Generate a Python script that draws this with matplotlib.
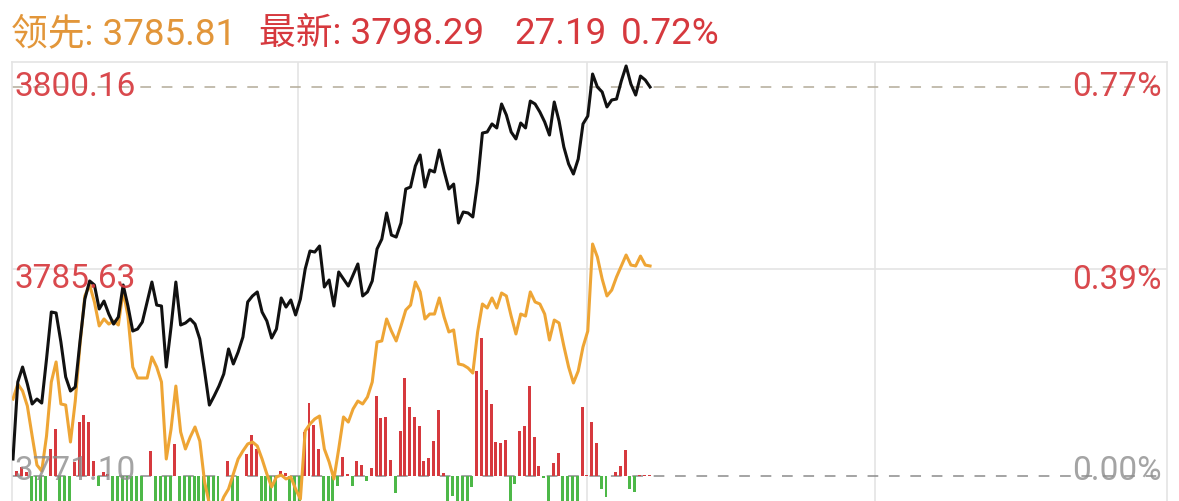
import matplotlib
matplotlib.use('Agg')
import numpy as np
import matplotlib.pyplot as plt

# header values
lead_value = 3785.81
last_value = 3798.29
change_value = 27.19
change_pct = 0.72

# axis reference prices
price_top = 3800.16
price_mid = 3785.63
price_base = 3771.10

# price line (black), one value per minute from the open
price = [
    3772.37, 3778.12, 3779.24, 3777.97, 3776.48, 3776.85, 3776.55, 3779.84, 3783.35, 3783.28,
    3781.11, 3778.50, 3777.45, 3777.75, 3781.19, 3784.32, 3785.67, 3785.37, 3783.58, 3784.17,
    3783.20, 3782.45, 3782.98, 3785.37, 3783.80, 3781.93, 3782.08, 3782.60, 3784.10, 3785.59,
    3783.87, 3783.80, 3779.24, 3782.23, 3785.59, 3782.38, 3782.53, 3782.83, 3782.45, 3781.33,
    3778.94, 3776.40, 3777.08, 3777.82, 3778.72, 3780.59, 3779.47, 3780.36, 3781.48, 3784.10,
    3784.55, 3784.85, 3783.35, 3782.68, 3781.41, 3782.08, 3784.40, 3783.72, 3784.25, 3783.13,
    3784.32, 3786.56, 3787.91, 3787.83, 3788.28, 3785.22, 3785.74, 3783.80, 3786.34, 3785.82,
    3785.29, 3786.12, 3786.94, 3784.55, 3784.85, 3785.67, 3788.06, 3788.80, 3790.75, 3789.10,
    3788.95, 3790.00, 3792.54, 3792.69, 3794.26, 3795.08, 3792.69, 3793.96, 3793.81, 3795.45,
    3793.88, 3792.54, 3792.91, 3790.00, 3790.82, 3790.75, 3790.45, 3793.06, 3796.72, 3796.80,
    3797.40, 3797.10, 3798.89, 3798.07, 3796.80, 3796.28, 3797.47, 3797.10, 3799.11, 3798.89,
    3798.29, 3797.55, 3796.57, 3799.04, 3797.62, 3795.68, 3794.41, 3793.66, 3794.78, 3797.40,
    3797.99, 3801.13, 3800.16, 3799.79, 3798.67, 3799.19, 3799.26, 3800.61, 3801.73, 3800.38,
    3799.56, 3800.98, 3800.68, 3800.16,
]

# leading line (orange)
lead = [
    3776.85, 3777.97, 3777.45, 3776.33, 3774.09, 3771.92, 3771.47, 3774.09, 3778.12, 3779.62,
    3776.48, 3776.40, 3773.64, 3776.70, 3780.96, 3784.55, 3785.37, 3784.10, 3782.31, 3782.83,
    3782.45, 3782.68, 3782.38, 3784.92, 3783.05, 3779.24, 3778.42, 3778.42, 3778.42, 3779.99,
    3779.24, 3778.12, 3772.37, 3774.61, 3777.82, 3774.39, 3773.12, 3774.01, 3774.76, 3773.71,
    3770.65, 3769.01, 3767.89, 3768.63, 3769.53, 3770.13, 3771.25, 3772.37, 3772.97, 3773.49,
    3773.64, 3773.34, 3772.37, 3771.25, 3770.28, 3771.03, 3771.17, 3770.88, 3771.03, 3770.13,
    3769.38, 3774.46, 3774.98, 3775.36, 3775.58, 3773.12, 3772.15, 3770.88, 3773.12, 3775.51,
    3775.13, 3776.11, 3776.70, 3776.48, 3777.00, 3778.12, 3781.11, 3781.19, 3782.83, 3781.93,
    3781.19, 3782.31, 3783.50, 3783.87, 3785.59, 3784.85, 3782.83, 3783.20, 3783.20, 3784.40,
    3782.98, 3781.86, 3782.01, 3779.47, 3779.39, 3779.17, 3778.79, 3781.86, 3783.95, 3783.65,
    3784.40, 3783.65, 3784.77, 3784.55, 3783.05, 3781.71, 3783.20, 3783.05, 3784.85, 3784.10,
    3783.95, 3783.20, 3781.26, 3782.75, 3782.53, 3780.81, 3779.24, 3778.05, 3778.94, 3780.74,
    3781.93, 3788.43, 3787.46, 3785.82, 3784.55, 3784.99, 3785.97, 3786.79, 3787.61, 3786.86,
    3786.79, 3787.53, 3786.86, 3786.79,
]

# buy/sell strength bars (red up, green down)
flow = [
    5, 9, 4, -30, -25, -30, -30, 27, 47, -30,
    -30, -28, 14, 54, 61, 54, 15, -10, 4, 2,
    -30, -30, -30, -30, -30, -30, -30, 0, 25, -30,
    -30, -30, -30, 32, -30, -30, -30, -30, -30, -30,
    -30, -30, -30, 0, 15, -30, -30, 0, 22, 41,
    27, -30, -30, -30, -30, 5, 3, -30, -30, -30,
    44, 73, 51, 27, -30, -30, -30, -10, 19, 2,
    -10, 15, 11, -5, 8, 80, 58, 59, 16, -17,
    45, 98, 69, 59, 50, 15, 18, 35, 66, 3,
    -28, -20, -30, -30, -30, -11, 105, 138, 86, 72,
    34, 33, 36, -30, -8, 45, 50, 90, 39, 10,
    -2, -30, 13, 23, -30, -30, -30, -30, 69, 1,
    54, 33, -13, -21, 0, 4, 10, 26, -13, -16,
    1.5, 1.5, 1.5, 0,
]

W, H = 1179, 502
RED = '#d6393e'
GREEN = '#4db848'
ORANGE = '#eea535'
GRID = '#e4e4e4'
FONT = ['Roboto', 'Noto Sans CJK SC', 'DejaVu Sans']


def main():
    fig = plt.figure(figsize=(W / 100, H / 100), dpi=100)
    fig.patch.set_facecolor('white')

    # plot frame: left 11.7px, right 1166.7px, top 62.7px, runs off the bottom
    ax = fig.add_axes([11.7 / W, 0, 1155 / W, (H - 62.7) / H])
    px = 13.386  # pixels per index point
    ax.set_ylim(price_base - 25 / px, price_base + 414.3 / px)
    ax.set_xlim(-0.27, 240.86)

    minutes = np.arange(len(price))

    for s in ['left', 'top', 'right']:
        ax.spines[s].set_color(GRID)
        ax.spines[s].set_linewidth(1.2)
    ax.spines['bottom'].set_visible(False)
    ax.set_xticks([])
    ax.set_yticks([])

    for gx in [59.6, 119.9, 179.9]:
        ax.axvline(gx, color=GRID, lw=1.2, zorder=0)
    ax.plot([0, 1], [0.528, 0.528], transform=ax.transAxes, color=GRID, lw=1.2, zorder=0)

    ax.axhline(price_top, color='#b3ab98', lw=1.1, dashes=(7, 7), zorder=1)
    ax.axhline(price_base, color='#8c8c8c', lw=1.1, dashes=(7, 7), zorder=1)

    # bars on their own scale, zero at the base price line
    axb = ax.twinx()
    axb.set_ylim(-25, 414.3)
    axb.set_xlim(ax.get_xlim())
    axb.axis('off')
    flow_arr = np.array(flow, dtype=float)
    colors = [RED if v > 0 else GREEN for v in flow_arr]
    axb.bar(minutes + 0.8, flow_arr, width=0.62, color=colors, zorder=2)

    axl = ax.twinx()
    axl.set_ylim(ax.get_ylim())
    axl.set_xlim(ax.get_xlim())
    axl.axis('off')
    axl.plot(minutes, lead, color=ORANGE, lw=2.2, solid_joinstyle='round', zorder=3)
    axl.plot(minutes, price, color='#111111', lw=2.2, solid_joinstyle='round', zorder=4)

    def fig_text(x, y, s, color, ha='left', size=26.5, alpha=1.0):
        fig.text(x / W, 1 - y / H, s, color=color, ha=ha, va='center',
                 fontsize=size, family=FONT, alpha=alpha, zorder=10)

    # header line
    fig_text(11, 34, f'领先: {lead_value:.2f}', '#e2963a')
    fig_text(259, 34, f'最新: {last_value:.2f}', RED)
    fig_text(514, 34, f'{change_value:.2f}', RED)
    fig_text(621, 34, f'{change_pct:.2f}%', RED)

    # left price labels
    fig_text(15, 87, f'{price_top:.2f}', RED, size=24, alpha=0.92)
    fig_text(15, 279, f'{price_mid:.2f}', RED, size=24, alpha=0.92)
    fig_text(15, 471, f'{price_base:.2f}', '#8e8e8e', size=24, alpha=0.8)

    # right percent labels
    pct_top = (price_top / price_base - 1) * 100
    pct_mid = (price_mid / price_base - 1) * 100
    fig_text(1162, 87, f'{pct_top:.2f}%', RED, ha='right', size=24, alpha=0.92)
    fig_text(1162, 280, f'{pct_mid:.2f}%', RED, ha='right', size=24, alpha=0.92)
    fig_text(1162, 471, '0.00%', '#8e8e8e', ha='right', size=24, alpha=0.8)

    fig.savefig('out.png', dpi=100, facecolor='white')


if __name__ == '__main__':
    main()
